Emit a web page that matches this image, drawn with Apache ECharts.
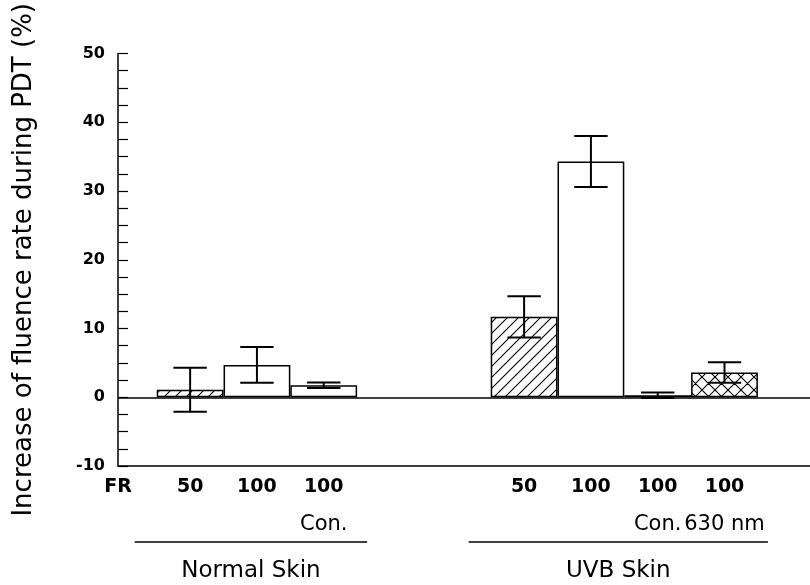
<!DOCTYPE html>
<html>
<head>
<meta charset="utf-8">
<script src="https://cdn.jsdelivr.net/npm/echarts@6/dist/echarts.min.js"></script>
<style>
  html, body { margin: 0; padding: 0; background: #fff; }
  #chart { width: 810px; height: 585px; }
</style>
</head>
<body>
<div id="chart"></div>
<script>
// Fluence rate (FR) written under each bar, plus an optional second line
const frLabels  = ['50', '100', '100', '50', '100', '100', '100'];
const subLabels = ['', '', 'Con.', '', '', 'Con.', '630 nm'];
// Which skin group each bar belongs to
const skinGroup  = [0, 0, 0, 1, 1, 1, 1];
const groupNames = ['Normal Skin', 'UVB Skin'];
// Increase of fluence rate during PDT (%): mean and error
const meanIncrease = [1.1, 4.7, 1.75, 11.7, 34.3, 0.3, 3.6];
const errIncrease  = [3.2, 2.6, 0.4, 3.0, 3.7, 0.4, 1.5];
// Y-axis tick values
const yTicks = [-10, 0, 10, 20, 30, 40, 50];

const FONT = '"DejaVu Sans", "Liberation Sans", Arial, sans-serif';
const INK = '#000';

// Slot index along the x axis: bars are adjacent within a group,
// with two empty slots between the groups.
const GROUP_GAP = 2;
const slots = frLabels.map((_, i) => i + skinGroup[i] * GROUP_GAP);

// Fill kind derived from the treatment
function fillKind(i) {
  if (subLabels[i] === '630 nm') return 'cross';
  if (frLabels[i] === '50' && subLabels[i] === '') return 'hatch';
  return 'open';
}

function makePattern(size, forward, backward) {
  const c = document.createElement('canvas');
  c.width = c.height = size;
  const g = c.getContext('2d');
  g.fillStyle = '#fff';
  g.fillRect(0, 0, size, size);
  g.strokeStyle = INK;
  g.lineWidth = 1.1;
  g.beginPath();
  if (forward) {
    g.moveTo(0, size); g.lineTo(size, 0);
    g.moveTo(-2, 2); g.lineTo(2, -2);
    g.moveTo(size - 2, size + 2); g.lineTo(size + 2, size - 2);
  }
  if (backward) {
    g.moveTo(0, 0); g.lineTo(size, size);
    g.moveTo(-2, size - 2); g.lineTo(2, size + 2);
    g.moveTo(size - 2, -2); g.lineTo(size + 2, 2);
  }
  g.stroke();
  return { image: c, repeat: 'repeat' };
}

const fills = {
  hatch: makePattern(11, true, false),
  open: '#fff',
  cross: makePattern(13, true, true)
};

function barSeries(kind, withZeroLine) {
  const idx = frLabels.map((_, i) => i).filter(i => fillKind(i) === kind);
  const s = {
    type: 'bar',
    name: kind,
    barWidth: '100%',
    barGap: '-100%',
    data: idx.map(i => [slots[i], meanIncrease[i]]),
    itemStyle: { color: fills[kind], borderColor: INK, borderWidth: 1.5 },
    emphasis: { disabled: true },
    z: 2
  };
  if (withZeroLine) {
    s.markLine = {
      silent: true,
      symbol: 'none',
      label: { show: false },
      lineStyle: { color: INK, width: 1.5, type: 'solid' },
      data: [{ yAxis: 0 }],
      z: 1
    };
  }
  return s;
}

const errorData = meanIncrease.map((m, i) => [slots[i], m - errIncrease[i], m + errIncrease[i]]);

const X_MIN = -1.08, X_MAX = 9.28;

const chart = echarts.init(document.getElementById('chart'), null, { renderer: 'canvas' });

chart.setOption({
  animation: false,
  backgroundColor: '#fff',
  textStyle: { fontFamily: FONT, color: INK },
  grid: { left: 118, right: 0, top: 53, bottom: 119, containLabel: false },
  xAxis: {
    type: 'value',
    min: X_MIN,
    max: X_MAX,
    splitLine: { show: false },
    axisTick: { show: false },
    axisLine: { show: true, onZero: false, lineStyle: { color: INK, width: 1.5 } },
    axisLabel: {
      show: true,
      margin: 2,
      customValues: [X_MIN].concat(slots),
      formatter: function (v) {
        if (Math.abs(v - X_MIN) < 1e-6) return '{a|FR}';
        const i = slots.findIndex(s => Math.abs(s - v) < 1e-6);
        if (i < 0) return '';
        return subLabels[i] ? '{a|' + frLabels[i] + '}\n{b|' + subLabels[i] + '}' : '{a|' + frLabels[i] + '}';
      },
      rich: {
        a: { fontFamily: FONT, fontSize: 19, fontWeight: 'bold', color: INK, lineHeight: 38 },
        b: { fontFamily: FONT, fontSize: 21, fontWeight: 'normal', color: INK, lineHeight: 38 }
      }
    }
  },
  yAxis: {
    type: 'value',
    min: yTicks[0],
    max: yTicks[yTicks.length - 1],
    interval: 10,
    name: 'Increase of fluence rate during PDT (%)',
    nameLocation: 'middle',
    nameRotate: 90,
    nameGap: 81,
    nameTextStyle: { fontFamily: FONT, fontSize: 26, color: INK },
    splitLine: { show: false },
    axisLine: { show: true, onZero: false, lineStyle: { color: INK, width: 1.5 } },
    axisTick: { show: true, inside: true, length: 10, lineStyle: { color: INK, width: 1.2 } },
    minorTick: { show: true, splitNumber: 4, length: 10, lineStyle: { color: INK, width: 1.2 } },
    axisLabel: {
      margin: 13,
      fontFamily: FONT, fontSize: 16, fontWeight: 'bold', color: INK,
      formatter: v => String(v)
    }
  },
  series: [
    barSeries('hatch', true),
    barSeries('open', false),
    barSeries('cross', false),
    {
      type: 'custom',
      name: 'error',
      data: errorData,
      encode: { x: 0, y: [1, 2] },
      z: 5,
      renderItem: function (params, api) {
        const x = api.value(0);
        const lo = api.coord([x, api.value(1)]);
        const hi = api.coord([x, api.value(2)]);
        const half = api.size([1, 0])[0] * 0.25;
        const st = { stroke: INK, lineWidth: 2 };
        return {
          type: 'group',
          children: [
            { type: 'line', shape: { x1: hi[0], y1: hi[1], x2: lo[0], y2: lo[1] }, style: st },
            { type: 'line', shape: { x1: hi[0] - half, y1: hi[1], x2: hi[0] + half, y2: hi[1] }, style: st },
            { type: 'line', shape: { x1: lo[0] - half, y1: lo[1], x2: lo[0] + half, y2: lo[1] }, style: st }
          ]
        };
      }
    }
  ]
});

// Group brackets (rule + name) under the FR labels
const axisY = chart.convertToPixel({ yAxisIndex: 0 }, yTicks[0]);
const graphics = [];
groupNames.forEach((name, g) => {
  const members = slots.filter((_, i) => skinGroup[i] === g);
  const left = chart.convertToPixel({ xAxisIndex: 0 }, Math.min.apply(null, members) - 0.5) - 22;
  const right = chart.convertToPixel({ xAxisIndex: 0 }, Math.max.apply(null, members) + 0.5) + 10;
  graphics.push({
    type: 'line',
    silent: true,
    shape: { x1: left, y1: axisY + 76, x2: right, y2: axisY + 76 },
    style: { stroke: INK, lineWidth: 1.3 }
  });
  graphics.push({
    type: 'text',
    silent: true,
    style: {
      text: name,
      x: (left + right) / 2,
      y: axisY + 105,
      fill: INK,
      fontFamily: FONT,
      fontSize: 23,
      align: 'center',
      verticalAlign: 'middle',
      textAlign: 'center',
      textVerticalAlign: 'middle'
    }
  });
});
chart.setOption({ graphic: graphics });
</script>
</body>
</html>
